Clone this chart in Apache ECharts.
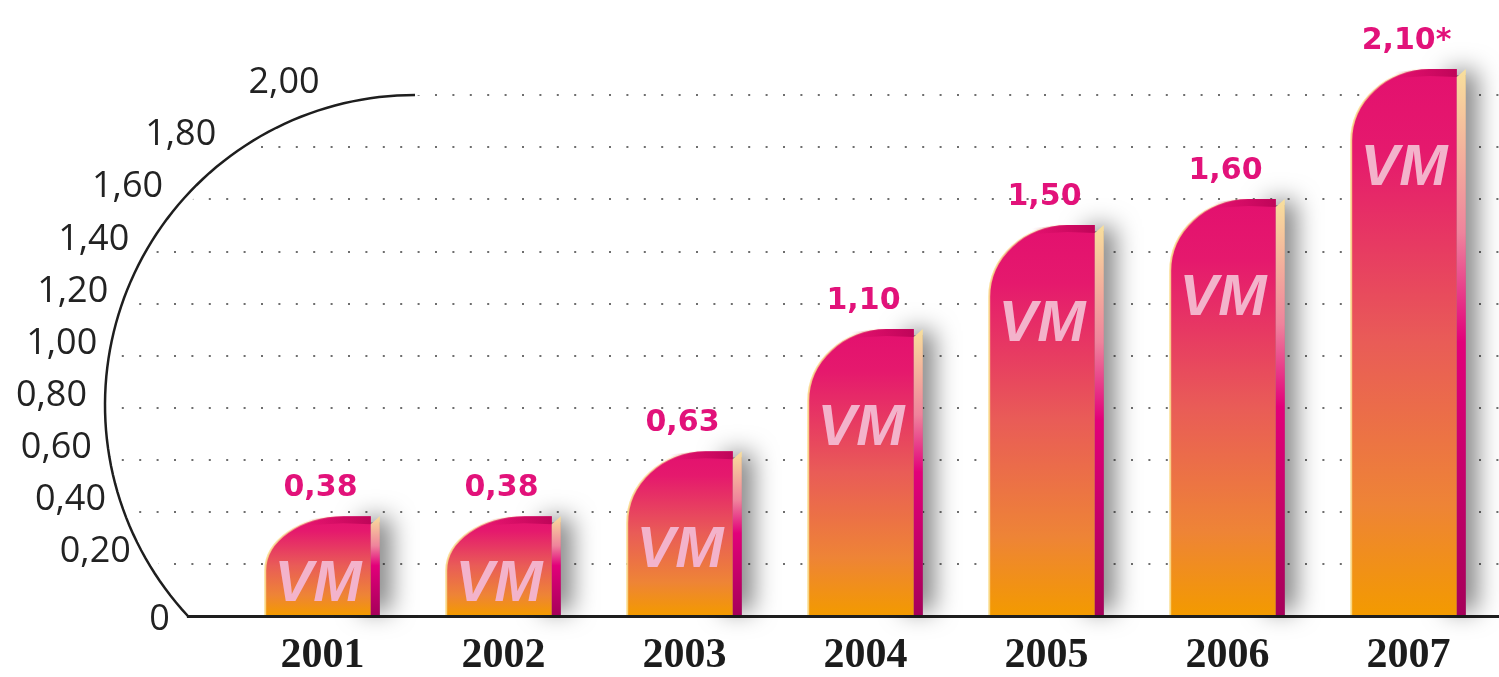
<!DOCTYPE html>
<html>
<head>
<meta charset="utf-8">
<title>VM</title>
<script src="https://cdn.jsdelivr.net/npm/echarts@6/dist/echarts.min.js"></script>
<style>
    html, body { margin: 0; padding: 0; background: #fff; }
    #main { width: 1499px; height: 677px; }
</style>
</head>
<body>
<div id="main"></div>
<script>
// data
var years = ['2001', '2002', '2003', '2004', '2005', '2006', '2007'];
var values = [0.38, 0.38, 0.63, 1.10, 1.50, 1.60, 2.10];
var valueLabels = ['0,38', '0,38', '0,63', '1,10', '1,50', '1,60', '2,10*'];
var yTicks = [0, 0.2, 0.4, 0.6, 0.8, 1.0, 1.2, 1.4, 1.6, 1.8, 2.0];
var yTickLabels = ['0', '0,20', '0,40', '0,60', '0,80', '1,00', '1,20', '1,40', '1,60', '1,80', '2,00'];

var chart = echarts.init(document.getElementById('main'));
var LG = echarts.graphic.LinearGradient;

// one bar: rounded top-left, side strip, shadow, VM logo, value on top
function renderBar(params, api) {
    var idx = params.dataIndex;
    var top = api.coord([api.value(0), api.value(1)]);
    var base = api.coord([api.value(0), 0]);
    var band = api.size([1, 0])[0];
    var total = band * 0.633;
    var strip = 9;
    var cx = top[0];
    var xL = cx - total / 2, xR = xL + total - strip, xS = xL + total;
    var yT = top[1], yB = base[1], h = yB - yT;
    var rx = Math.min((xR - xL) * 0.74, 80);
    var ry = Math.min(h * 0.55, 72);
    var k = 0.45;

    var curve = 'M' + xL + ' ' + yB + 'L' + xL + ' ' + (yT + ry) +
        'C' + xL + ' ' + (yT + ry * k) + ' ' + (xL + rx * k) + ' ' + yT + ' ' + (xL + rx) + ' ' + yT;
    var main = curve + 'L' + xR + ' ' + yT + 'L' + xR + ' ' + yB + 'Z';

    var vmY = Math.min(yT + 100, yB - 30);

    return {
        type: 'group',
        children: [
            {
                type: 'rect',
                shape: { x: xS - 30, y: yT + 6, width: 30, height: h - 6 },
                style: { fill: '#888', shadowBlur: 24, shadowColor: 'rgba(0,0,0,0.5)', shadowOffsetX: 11, shadowOffsetY: -4 }
            },
            {
                type: 'path',
                shape: { pathData: main },
                style: {
                    fill: new LG(0, 0, 0, 1, [
                        { offset: 0, color: '#e3106f' },
                        { offset: 0.15, color: '#e5196d' },
                        { offset: 0.5, color: '#e95c57' },
                        { offset: 0.8, color: '#ee8436' },
                        { offset: 1, color: '#f39a00' }
                    ])
                }
            },
            {
                type: 'path',
                shape: { pathData: curve },
                style: {
                    fill: null,
                    lineWidth: 2,
                    stroke: new LG(0, 0, 1, 0, [
                        { offset: 0, color: 'rgba(250,220,140,0.9)' },
                        { offset: 1, color: 'rgba(250,220,140,0)' }
                    ])
                }
            },
            {
                type: 'polygon',
                shape: { points: [[xL + rx * 0.55, yT + 3], [xL + rx, yT], [xR, yT], [xR, yT + 8], [xL + rx, yT + 7], [xL + rx * 0.55, yT + 9]] },
                style: {
                    fill: new LG(0, 0, 1, 0, [
                        { offset: 0, color: 'rgba(185,0,80,0)' },
                        { offset: 1, color: 'rgba(175,0,80,0.7)' }
                    ])
                }
            },
            {
                type: 'polygon',
                shape: { points: [[xR, yT + 8], [xS, yT], [xS, yB], [xR, yB]] },
                style: {
                    fill: new LG(0, 0, 0, 1, [
                        { offset: 0, color: '#f8e09c' },
                        { offset: 0.3, color: '#ef839c' },
                        { offset: 0.5, color: '#e2007a' },
                        { offset: 1, color: '#a6005a' }
                    ])
                }
            },
            {
                type: 'text',
                style: {
                    text: 'VM', x: (xL + xR) / 2, y: vmY,
                    fill: '#f3b3cb', font: 'italic bold 58px "Liberation Sans"',
                    align: 'center', verticalAlign: 'middle',
                    textAlign: 'center', textVerticalAlign: 'middle'
                }
            },
            {
                type: 'text',
                style: {
                    text: valueLabels[idx], x: cx - 2, y: yT - 28,
                    fill: '#e2127a', font: 'bold 30px "DejaVu Sans"',
                    align: 'center', verticalAlign: 'middle',
                    textAlign: 'center', textVerticalAlign: 'middle'
                }
            }
        ]
    };
}

var option = {
    backgroundColor: '#fff',
    animation: false,
    grid: [
        { left: 232, right: -6, top: 95, bottom: 61 },
        { left: 0, right: 0, top: 95, bottom: 61 }
    ],
    xAxis: [
        {
            type: 'category', gridIndex: 0, data: years,
            axisLine: { show: false }, axisTick: { show: false },
            axisLabel: { margin: 20, fontFamily: 'Liberation Serif', fontWeight: 'bold', fontSize: 42, color: '#1c1c1c' }
        },
        {
            type: 'value', gridIndex: 1, min: 0, max: 1,
            axisLine: { show: true, lineStyle: { color: '#1e1e1e', width: 3 } },
            axisTick: { show: false }, axisLabel: { show: false }, splitLine: { show: false }
        }
    ],
    yAxis: [
        { type: 'value', gridIndex: 0, min: 0, max: 2, interval: 0.2, show: false },
        {
            type: 'value', gridIndex: 1, min: 0, max: 2, interval: 0.2,
            axisLine: { show: false }, axisTick: { show: false }, axisLabel: { show: false },
            splitLine: { show: true, lineStyle: { color: '#6e6e6e', width: 2.2, type: [2, 15.4] } }
        }
    ],
    series: [{
        type: 'custom',
        xAxisIndex: 0,
        yAxisIndex: 0,
        clip: false,
        silent: true,
        renderItem: renderBar,
        data: years.map(function (y, i) { return [i, values[i]]; })
    }]
};
chart.setOption(option);

// the arc that carries the value scale, and the white area left of it
var topY = chart.convertToPixel({ yAxisIndex: 1 }, yTicks[yTicks.length - 1]);
var baseY = chart.convertToPixel({ yAxisIndex: 1 }, yTicks[0]);
var arcR = 310, arcCX = 415, arcCY = topY + arcR;
var xb = arcCX - Math.sqrt(arcR * arcR - (baseY - arcCY) * (baseY - arcCY));
var a0 = Math.atan2(baseY - arcCY, xb - arcCX), a1 = Math.PI * 1.5;

function arcX(y) {
    var d = arcR * arcR - (y - arcCY) * (y - arcCY);
    return arcCX - Math.sqrt(Math.max(0, d));
}

var arcPts = [];
for (var i = 0; i <= 80; i++) {
    var a = a0 + (a1 - a0) * i / 80;
    arcPts.push([arcCX + arcR * Math.cos(a), arcCY + arcR * Math.sin(a)]);
}

var cover = [[0, topY - 30], [arcCX + 10, topY - 30]];
for (var j = arcPts.length - 1; j >= 0; j--) {
    if (arcPts[j][1] < baseY - 6) cover.push([arcPts[j][0] + 10, arcPts[j][1]]);
}
cover.push([xb - 1, baseY - 3], [xb - 1, baseY + 20], [0, baseY + 20]);

var elements = [
    { type: 'polygon', z: 10, silent: true, shape: { points: cover }, style: { fill: '#fff' } },
    { type: 'polyline', z: 11, silent: true, shape: { points: arcPts }, style: { stroke: '#1e1e1e', lineWidth: 2.5, fill: null } }
];

for (var t = 0; t < yTicks.length; t++) {
    var ty = chart.convertToPixel({ yAxisIndex: 1 }, yTicks[t]);
    var upper = ty < arcCY;
    var rx = arcX(upper ? ty + 12 : ty) - (upper ? 10 : 18);
    var ly = t === 0 ? ty + 4 : ty - 12;
    elements.push({
        type: 'text', z: 11, silent: true,
        style: {
            text: yTickLabels[t], x: rx, y: ly,
            fill: '#222', font: '36px "Open Sans"',
            align: 'right', verticalAlign: 'middle'
        }
    });
}

chart.setOption({ graphic: { elements: elements } });
</script>
</body>
</html>
